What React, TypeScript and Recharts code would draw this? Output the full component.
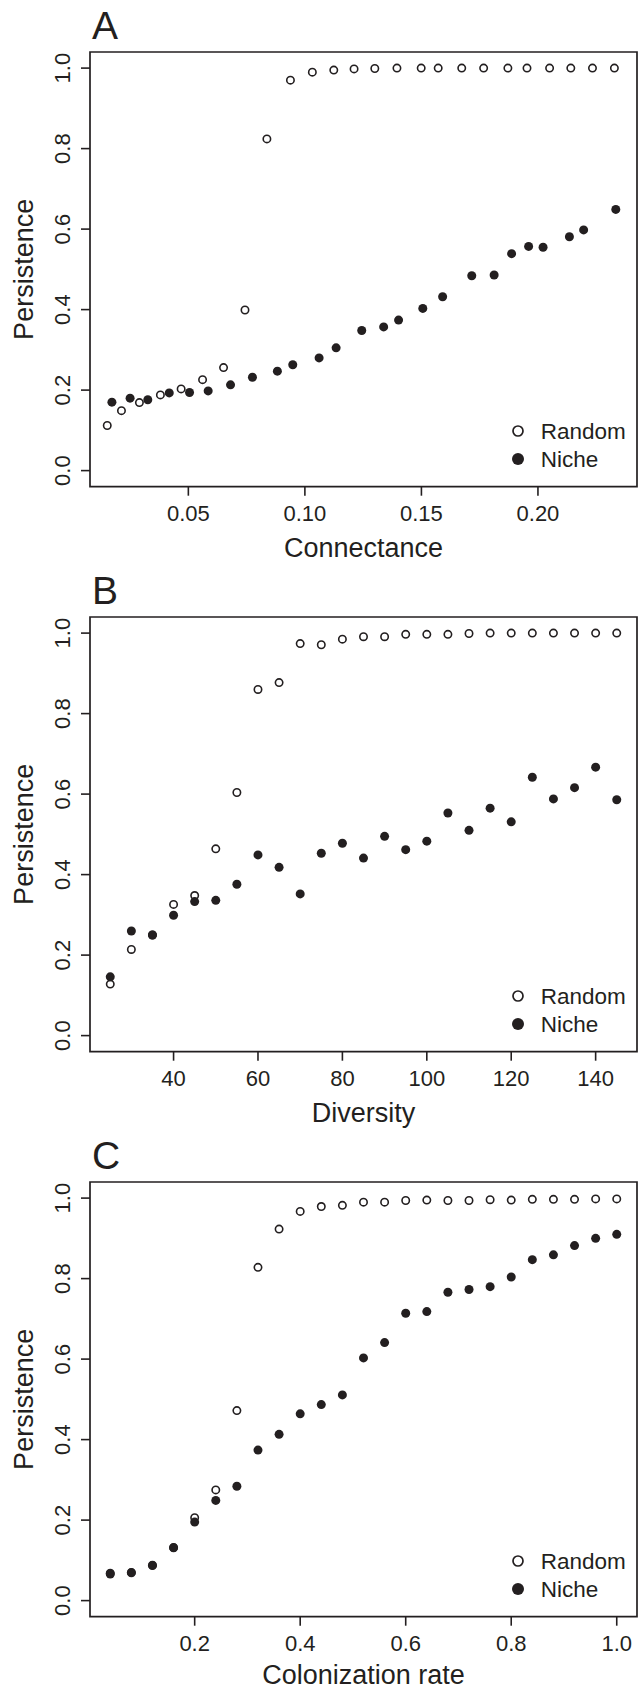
import React from "react";
import {
  ScatterChart,
  Scatter,
  XAxis,
  YAxis,
  ReferenceArea,
  Label,
  Legend,
} from "recharts";

const INK = "#231f20";
const FONT = '"Liberation Sans", Arial, Helvetica, sans-serif';

// Panel A: persistence vs connectance
const connectanceRandomX = [
  0.0152, 0.0213, 0.029, 0.038, 0.0469, 0.0561, 0.0651, 0.0743, 0.0837, 0.0938,
  0.1032, 0.1124, 0.1211, 0.13, 0.1395, 0.1499, 0.1572, 0.1673, 0.1767, 0.1871,
  0.1953, 0.205, 0.2141, 0.2234, 0.2328,
];
const connectanceRandomY = [
  0.112, 0.149, 0.169, 0.188, 0.203, 0.226, 0.256, 0.399, 0.824, 0.97, 0.99,
  0.995, 0.998, 0.999, 1.0, 1.0, 1.0, 1.0, 1.0, 1.0, 1.0, 1.0, 1.0, 1.0, 1.0,
];
const connectanceNicheX = [
  0.0172, 0.025, 0.0326, 0.0418, 0.0505, 0.0585, 0.0681, 0.0775, 0.0882, 0.0948,
  0.1061, 0.1134, 0.1244, 0.1338, 0.1402, 0.1506, 0.1591, 0.1716, 0.1812, 0.1887,
  0.196, 0.2022, 0.2135, 0.2196, 0.2334,
];
const connectanceNicheY = [
  0.17, 0.18, 0.176, 0.193, 0.194, 0.198, 0.213, 0.232, 0.247, 0.263, 0.28,
  0.305, 0.348, 0.357, 0.374, 0.403, 0.432, 0.484, 0.486, 0.539, 0.557, 0.555,
  0.581, 0.598, 0.649,
];

// Panel B: persistence vs diversity
const diversityX = [
  25, 30, 35, 40, 45, 50, 55, 60, 65, 70, 75, 80, 85, 90, 95, 100, 105, 110,
  115, 120, 125, 130, 135, 140, 145,
];
const diversityRandomY = [
  0.128, 0.214, 0.25, 0.326, 0.348, 0.464, 0.604, 0.86, 0.877, 0.974, 0.971,
  0.985, 0.991, 0.991, 0.997, 0.997, 0.997, 0.999, 1.0, 1.0, 1.0, 1.0, 1.0,
  1.0, 1.0,
];
const diversityNicheY = [
  0.146, 0.26, 0.25, 0.299, 0.333, 0.336, 0.376, 0.449, 0.418, 0.352, 0.453,
  0.478, 0.441, 0.495, 0.462, 0.483, 0.553, 0.51, 0.565, 0.531, 0.642, 0.588,
  0.616, 0.667, 0.586,
];

// Panel C: persistence vs colonization rate
const colonizationX = [
  0.04, 0.08, 0.12, 0.16, 0.2, 0.24, 0.28, 0.32, 0.36, 0.4, 0.44, 0.48, 0.52,
  0.56, 0.6, 0.64, 0.68, 0.72, 0.76, 0.8, 0.84, 0.88, 0.92, 0.96, 1.0,
];
const colonizationRandomY = [
  0.068, 0.07, 0.088, 0.132, 0.206, 0.275, 0.472, 0.828, 0.923, 0.967, 0.979,
  0.982, 0.99, 0.99, 0.994, 0.995, 0.994, 0.994, 0.996, 0.995, 0.997, 0.997,
  0.997, 0.998, 0.998,
];
const colonizationNicheY = [
  0.066, 0.069, 0.087, 0.131, 0.195, 0.249, 0.284, 0.374, 0.413, 0.464, 0.487,
  0.511, 0.603, 0.641, 0.714, 0.718, 0.766, 0.773, 0.78, 0.804, 0.847, 0.859,
  0.882, 0.9, 0.91,
];

const yTicks = [0, 0.2, 0.4, 0.6, 0.8, 1.0];
const connectanceTicks = [0.05, 0.1, 0.15, 0.2];
const diversityTicks = [40, 60, 80, 100, 120, 140];
const colonizationTicks = [0.2, 0.4, 0.6, 0.8, 1.0];
const legendOrder = ["Random", "Niche"];

const toPoints = (xs: number[], ys: number[]) =>
  xs.map((x, i) => ({ x, y: ys[i] }));

const W = 638;
const H = 570;

function OpenDot(props: any) {
  return <circle cx={props.cx} cy={props.cy} r={3.7} fill="none" stroke={INK} strokeWidth={1.6} />;
}
function FilledDot(props: any) {
  return <circle cx={props.cx} cy={props.cy} r={4.5} fill={INK} stroke="none" />;
}

function LegendBox({ payload }: any) {
  // keep R's legend order regardless of how recharts hands the entries over
  const items = [...(payload || [])].sort(
    (a: any, b: any) => legendOrder.indexOf(a.value) - legendOrder.indexOf(b.value)
  );
  return (
    <svg width={125} height={56} style={{ display: "block" }}>
      {items.map((entry: any, i: number) => {
        const cy = 14 + i * 28;
        const open = entry.value === "Random";
        return (
          <g key={entry.value}>
            {open ? (
              <circle cx={8} cy={cy} r={5} fill="none" stroke={INK} strokeWidth={1.7} />
            ) : (
              <circle cx={8} cy={cy} r={6} fill={INK} />
            )}
            <text x={30.7} y={cy + 8} fontSize={22.5} fontFamily={FONT} fill={INK}>
              {entry.value}
            </text>
          </g>
        );
      })}
    </svg>
  );
}

function Panel({
  top,
  letter,
  xLabel,
  xDomain,
  xTicks,
  digits,
  titleOffset,
  random,
  niche,
}: {
  top: number;
  letter: string;
  xLabel: string;
  xDomain: [number, number];
  xTicks: number[];
  digits: number;
  titleOffset: number;
  random: { x: number; y: number }[];
  niche: { x: number; y: number }[];
}) {
  const yDomain: [number, number] = [-0.04, 1.04];
  return (
    <div style={{ position: "absolute", left: 0, top, width: W, height: H }}>
      <ScatterChart width={W} height={H} margin={{ top: 52, right: 1, bottom: 13.3, left: 0 }}>
        <XAxis
          type="number"
          dataKey="x"
          domain={xDomain}
          ticks={xTicks}
          allowDataOverflow
          height={70}
          axisLine={false}
          tickSize={9}
          tickMargin={2}
          tickLine={{ stroke: INK, strokeWidth: 1.6 }}
          tick={(p: any) => (
            <text
              x={p.x}
              y={p.y + 23.3}
              textAnchor="middle"
              fontSize={22}
              fontFamily={FONT}
              fill={INK}
            >
              {Number(p.payload.value).toFixed(digits)}
            </text>
          )}
        >
          <Label
            content={(p: any) => (
              <text
                x={p.viewBox.x + p.viewBox.width / 2}
                y={p.viewBox.y + titleOffset}
                textAnchor="middle"
                fontSize={27}
                fontFamily={FONT}
                fill={INK}
              >
                {xLabel}
              </text>
            )}
          />
        </XAxis>
        <YAxis
          type="number"
          dataKey="y"
          domain={yDomain}
          ticks={yTicks}
          allowDataOverflow
          width={90}
          axisLine={false}
          tickSize={9}
          tickMargin={2}
          tickLine={{ stroke: INK, strokeWidth: 1.6 }}
          tick={(p: any) => (
            <text
              x={p.x - 9}
              y={p.y}
              transform={`rotate(-90, ${p.x - 9}, ${p.y})`}
              textAnchor="middle"
              fontSize={22}
              fontFamily={FONT}
              fill={INK}
            >
              {Number(p.payload.value).toFixed(1)}
            </text>
          )}
        >
          <Label
            content={(p: any) => {
              const cy = p.viewBox.y + p.viewBox.height / 2;
              return (
                <text
                  x={33}
                  y={cy}
                  transform={`rotate(-90, 33, ${cy})`}
                  textAnchor="middle"
                  fontSize={27}
                  fontFamily={FONT}
                  fill={INK}
                >
                  Persistence
                </text>
              );
            }}
          />
        </YAxis>
        <ReferenceArea
          x1={xDomain[0]}
          x2={xDomain[1]}
          y1={yDomain[0]}
          y2={yDomain[1]}
          fill="none"
          stroke={INK}
          strokeWidth={1.7}
          ifOverflow="visible"
        >
          <Label
            content={(p: any) => (
              <text
                x={p.viewBox.x + 2}
                y={p.viewBox.y - 13}
                fontSize={39}
                fontFamily={FONT}
                fill={INK}
              >
                {letter}
              </text>
            )}
          />
        </ReferenceArea>
        <Scatter name="Random" data={random} shape={<OpenDot />} isAnimationActive={false} />
        <Scatter name="Niche" data={niche} shape={<FilledDot />} isAnimationActive={false} />
        <Legend
          layout="horizontal"
          verticalAlign="middle"
          align="center"
          content={<LegendBox />}
          wrapperStyle={{ left: 510, top: 417, width: 125, height: 56 }}
        />
      </ScatterChart>
    </div>
  );
}

export default function App() {
  return (
    <div
      style={{
        position: "absolute",
        left: 0,
        top: 0,
        width: W,
        height: 1690,
        background: "#fff",
        overflow: "hidden",
      }}
    >
      <Panel
        top={0}
        letter="A"
        xLabel="Connectance"
        xDomain={[0.0078, 0.2425]}
        xTicks={connectanceTicks}
        digits={2}
        titleOffset={70}
        random={toPoints(connectanceRandomX, connectanceRandomY)}
        niche={toPoints(connectanceNicheX, connectanceNicheY)}
      />
      <Panel
        top={565.3}
        letter="B"
        xLabel="Diversity"
        xDomain={[20.2, 149.8]}
        xTicks={diversityTicks}
        digits={0}
        titleOffset={70}
        random={toPoints(diversityX, diversityRandomY)}
        niche={toPoints(diversityX, diversityNicheY)}
      />
      <Panel
        top={1130}
        letter="C"
        xLabel="Colonization rate"
        xDomain={[0.0016, 1.0384]}
        xTicks={colonizationTicks}
        digits={1}
        titleOffset={67}
        random={toPoints(colonizationX, colonizationRandomY)}
        niche={toPoints(colonizationX, colonizationNicheY)}
      />
    </div>
  );
}
